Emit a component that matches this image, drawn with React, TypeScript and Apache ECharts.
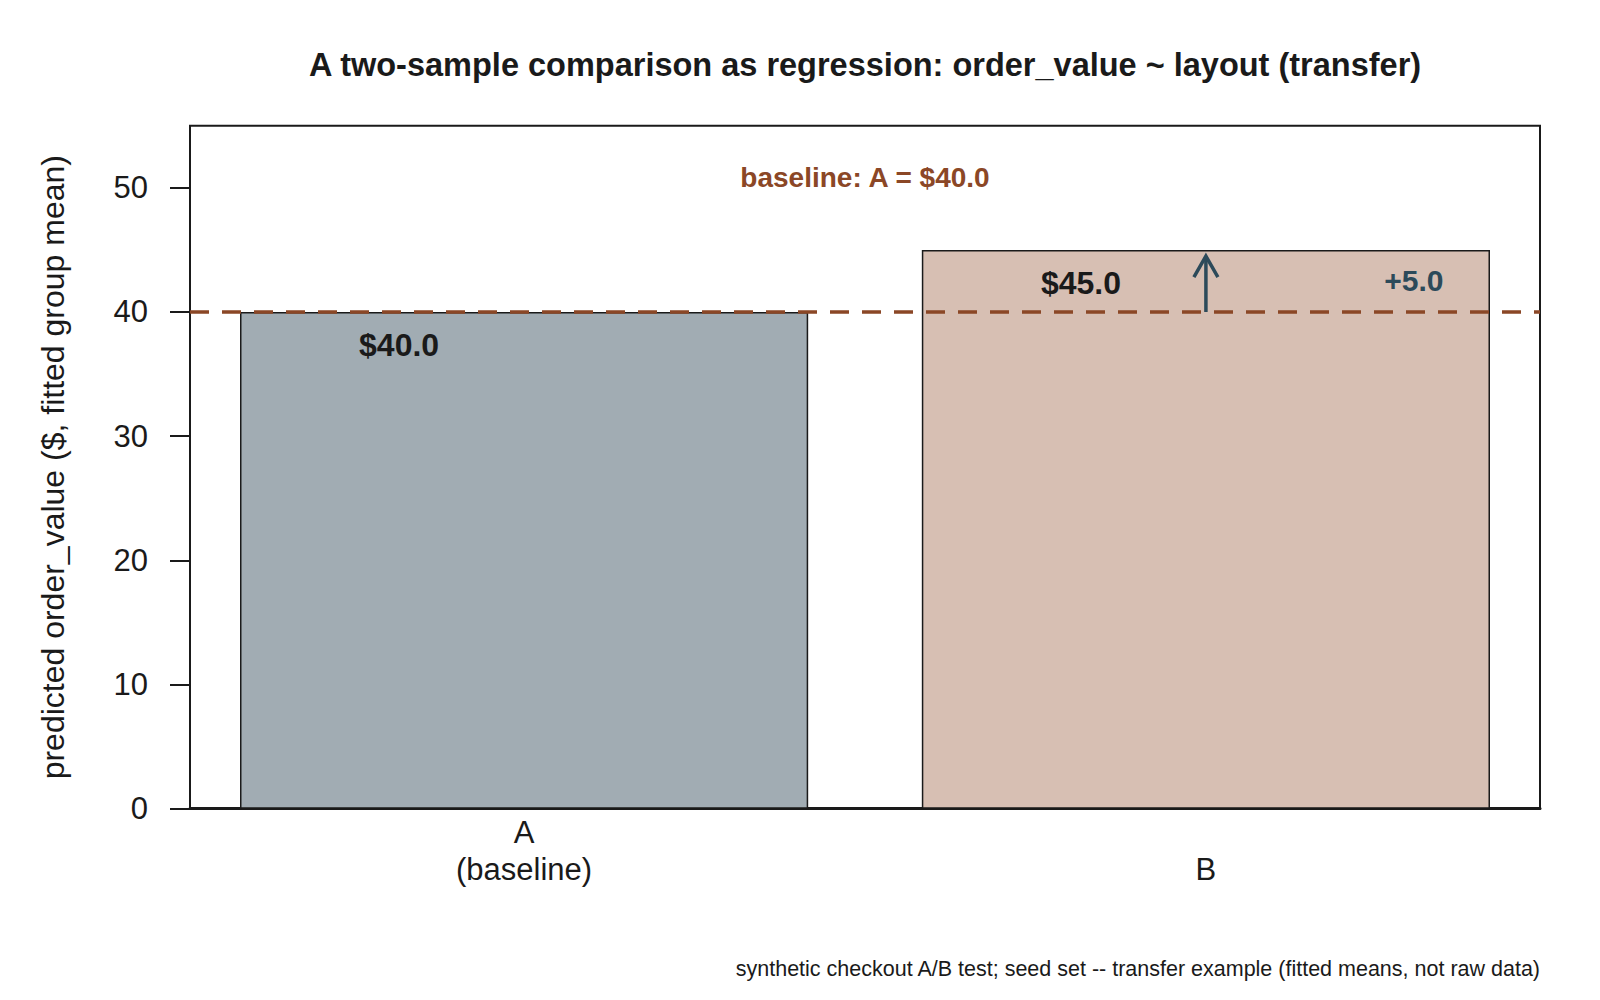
import React, { useEffect, useRef } from 'react';
import * as echarts from 'echarts';

const categories = ['A', 'B'];
const categoryLabels = ['A\n(baseline)', 'B'];
const fittedMeans = [40.0, 45.0];
const yTicks = [0, 10, 20, 30, 40, 50];
const barColors = ['#A1ACB3', '#D7BFB3'];
// R barplot geometry: width 1, space 0.2 -> bar centres at 0.7, 1.9
const barWidthUnits = 1;
const barSpace = 0.2;
const barCenters = categories.map((_, i) => barSpace + barWidthUnits / 2 + i * (barWidthUnits + barSpace));
const xMin = 0.112;
const xMax = 2.488;

const FONT = '"Liberation Sans", Arial, Helvetica, sans-serif';
const SIENNA = '#8B4726';
const SLATE = '#2C4A5A';
const INK = '#1A1A1A';

function labelFor(v: number): string {
  let best = 0;
  for (let i = 1; i < barCenters.length; i++) {
    if (Math.abs(barCenters[i] - v) < Math.abs(barCenters[best] - v)) best = i;
  }
  return categoryLabels[best];
}

export default function App() {
  const ref = useRef<HTMLDivElement>(null);
  useEffect(() => {
    const chart = echarts.init(ref.current as HTMLDivElement, null, { renderer: 'svg' });
    const baseline = fittedMeans[0];
    const diff = fittedMeans[1] - fittedMeans[0];
    chart.setOption({
      animation: false,
      backgroundColor: '#ffffff',
      textStyle: { fontFamily: FONT },
      grid: {
        left: 190,
        right: 60,
        top: 125.7,
        bottom: 191.3,
        show: true,
        borderColor: INK,
        borderWidth: 2,
        backgroundColor: 'transparent',
      },
      xAxis: {
        type: 'value',
        min: xMin,
        max: xMax,
        axisTick: { show: false },
        axisLine: { show: true, onZero: false, lineStyle: { color: INK, width: 3 } },
        axisLabel: {
          color: INK,
          fontSize: 31,
          lineHeight: 37,
          verticalAlign: 'bottom',
          margin: 79,
          fontFamily: FONT,
          customValues: barCenters,
          formatter: (v: number) => labelFor(v),
        },
        splitLine: { show: false },
      },
      yAxis: {
        type: 'value',
        min: 0,
        max: 55,
        interval: 10,
        name: 'predicted order_value ($, fitted group mean)',
        nameLocation: 'middle',
        nameGap: 121,
        nameRotate: 90,
        nameTextStyle: { color: INK, fontSize: 32, fontFamily: FONT },
        axisLine: { show: false },
        axisTick: {
          show: true,
          length: 20,
          lineStyle: { color: INK, width: 2 },
          customValues: yTicks,
        },
        axisLabel: {
          color: INK,
          fontSize: 31,
          margin: 42,
          customValues: yTicks,
          fontFamily: FONT,
        },
        splitLine: { show: false },
      },
      graphic: [
        {
          type: 'text',
          x: 865,
          y: 65,
          style: {
            text: 'A two-sample comparison as regression: order_value ~ layout (transfer)',
            align: 'center',
            verticalAlign: 'middle',
            font: `bold 32.5px ${FONT}`,
            fill: INK,
          },
        },
        {
          type: 'text',
          x: 865,
          y: 177.5,
          z: 10,
          style: {
            text: `baseline: ${categories[0]} = $${baseline.toFixed(1)}`,
            align: 'center',
            verticalAlign: 'middle',
            font: `bold 28px ${FONT}`,
            fill: SIENNA,
          },
        },
        {
          type: 'text',
          x: 1540,
          y: 969,
          style: {
            text: 'synthetic checkout A/B test; seed set -- transfer example (fitted means, not raw data)',
            align: 'right',
            verticalAlign: 'middle',
            font: `21.5px ${FONT}`,
            fill: INK,
          },
        },
      ],
      series: [
        {
          type: 'bar',
          barWidth: '83.333%',
          data: fittedMeans.map((v, i) => ({
            value: [barCenters[i], v],
            itemStyle: { color: barColors[i], borderColor: INK, borderWidth: 1.5 },
          })),
          label: {
            show: true,
            position: 'insideTop',
            offset: [-125, 12],
            formatter: (p: any) => '$' + Number(p.value[1]).toFixed(1),
            fontSize: 32,
            fontWeight: 'bold',
            color: INK,
            fontFamily: FONT,
          },
          markLine: {
            silent: true,
            symbol: ['none', 'none'],
            label: { show: false },
            lineStyle: { color: SIENNA, type: [19, 13], width: 3.5 },
            data: [{ yAxis: baseline }],
          },
          z: 2,
        },
        {
          type: 'custom',
          z: 6,
          data: [[barCenters[1], baseline, fittedMeans[1]]],
          renderItem: (params: any, api: any) => {
            const x = api.value(0);
            const base = api.value(1);
            const top = api.value(2);
            const p0 = api.coord([x, base]);
            const p1 = api.coord([x, base + 0.9 * (top - base)]);
            const mid = api.coord([x, (base + top) / 2]);
            const hl = 21;
            const hw = 12;
            return {
              type: 'group',
              children: [
                {
                  type: 'line',
                  shape: { x1: p0[0], y1: p0[1], x2: p1[0], y2: p1[1] },
                  style: { stroke: SLATE, lineWidth: 3.5 },
                },
                {
                  type: 'polyline',
                  shape: {
                    points: [
                      [p1[0] - hw, p1[1] + hl],
                      [p1[0], p1[1]],
                      [p1[0] + hw, p1[1] + hl],
                    ],
                  },
                  style: { stroke: SLATE, lineWidth: 3.5, fill: 'none' },
                },
                {
                  type: 'text',
                  x: p1[0] + 208,
                  y: mid[1],
                  style: {
                    text: '+' + diff.toFixed(1),
                    align: 'center',
                    verticalAlign: 'middle',
                    font: `bold 30px ${FONT}`,
                    fill: SLATE,
                  },
                },
              ],
            };
          },
        },
      ],
    });
    return () => chart.dispose();
  }, []);
  return (
    <div
      ref={ref}
      style={{ position: 'absolute', left: 0, top: 0, width: 1600, height: 1000, background: '#fff' }}
    />
  );
}
